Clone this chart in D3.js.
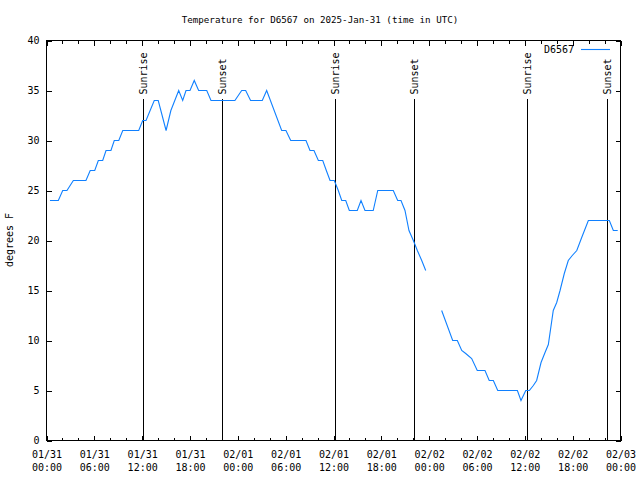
<!DOCTYPE html>
<html>
<head>
<meta charset="utf-8">
<script src="https://cdn.jsdelivr.net/npm/d3@7"></script>
<style>
  html, body { margin: 0; padding: 0; background: #fff; }
  svg { display: block; }
  text { font-family: 'DejaVu Sans Mono', 'Liberation Mono', monospace; fill: #000; }
</style>
</head>
<body>
<svg id="chart" width="640" height="480"></svg>
<script>
// ---- data ----
const chartTitle = "Temperature for D6567 on 2025-Jan-31 (time in UTC)";
const yAxisLabel = "degrees F";
const seriesName = "D6567";

const obsTimes = [
  "2025-01-31T00:26Z","2025-01-31T01:29Z","2025-01-31T02:02Z","2025-01-31T02:34Z","2025-01-31T03:22Z",
  "2025-01-31T04:57Z","2025-01-31T05:29Z","2025-01-31T06:03Z","2025-01-31T06:30Z","2025-01-31T07:03Z",
  "2025-01-31T07:28Z","2025-01-31T08:05Z","2025-01-31T08:30Z","2025-01-31T09:04Z","2025-01-31T09:34Z",
  "2025-01-31T11:34Z","2025-01-31T12:04Z","2025-01-31T12:29Z","2025-01-31T13:31Z","2025-01-31T14:01Z",
  "2025-01-31T15:00Z","2025-01-31T15:36Z","2025-01-31T16:35Z","2025-01-31T17:05Z","2025-01-31T17:30Z",
  "2025-01-31T18:00Z","2025-01-31T18:32Z","2025-01-31T19:05Z","2025-01-31T20:06Z","2025-01-31T20:38Z",
  "2025-01-31T23:38Z",
  "2025-02-01T00:29Z","2025-02-01T00:59Z","2025-02-01T01:36Z","2025-02-01T03:04Z","2025-02-01T03:37Z",
  "2025-02-01T05:30Z","2025-02-01T06:02Z","2025-02-01T06:38Z","2025-02-01T08:33Z","2025-02-01T09:03Z",
  "2025-02-01T09:33Z","2025-02-01T10:06Z","2025-02-01T10:39Z","2025-02-01T11:06Z","2025-02-01T11:34Z",
  "2025-02-01T12:06Z","2025-02-01T12:36Z","2025-02-01T13:02Z","2025-02-01T13:32Z","2025-02-01T13:59Z",
  "2025-02-01T14:59Z","2025-02-01T15:27Z","2025-02-01T15:57Z","2025-02-01T16:59Z","2025-02-01T17:33Z",
  "2025-02-01T19:30Z","2025-02-01T20:03Z","2025-02-01T20:28Z","2025-02-01T20:58Z","2025-02-01T21:28Z",
  "2025-02-01T22:01Z","2025-02-01T22:31Z","2025-02-01T23:04Z","2025-02-01T23:34Z",
  "2025-02-02T00:30Z",
  "2025-02-02T01:34Z","2025-02-02T02:57Z","2025-02-02T03:32Z","2025-02-02T04:05Z","2025-02-02T04:35Z",
  "2025-02-02T05:20Z","2025-02-02T06:02Z","2025-02-02T07:00Z","2025-02-02T07:32Z","2025-02-02T08:03Z",
  "2025-02-02T08:36Z","2025-02-02T11:04Z","2025-02-02T11:31Z","2025-02-02T12:07Z","2025-02-02T12:34Z",
  "2025-02-02T13:04Z","2025-02-02T13:29Z","2025-02-02T14:02Z","2025-02-02T14:32Z","2025-02-02T14:57Z",
  "2025-02-02T15:34Z","2025-02-02T16:00Z","2025-02-02T16:25Z","2025-02-02T16:57Z","2025-02-02T17:27Z",
  "2025-02-02T17:57Z","2025-02-02T18:31Z","2025-02-02T19:08Z","2025-02-02T19:58Z","2025-02-02T22:36Z",
  "2025-02-02T23:06Z","2025-02-02T23:39Z"
];
const tempF = [
  24,24,25,25,26,
  26,27,27,28,28,
  29,29,30,30,31,
  31,32,32,34,34,
  31,33,35,34,35,
  35,36,35,35,34,
  34,
  35,35,34,34,35,
  31,31,30,30,29,
  29,28,28,27,26,
  26,25,24,24,23,
  23,24,23,23,25,
  25,24,24,23,21,
  20,19,18,17,
  null,
  13,10,10,9,8.7,
  8.2,7,7,6,6,
  5,5,4,5,5,
  5.5,6,7.8,8.8,9.6,
  13,13.8,15,16.7,18,
  18.5,19,20.3,22,22,
  21,21
];

const eventLabels = ["Sunrise","Sunset","Sunrise","Sunset","Sunrise","Sunset"];
const eventTimes = [
  "2025-01-31T12:08Z","2025-01-31T22:03Z",
  "2025-02-01T12:11Z","2025-02-01T22:08Z",
  "2025-02-02T12:14Z","2025-02-02T22:16Z"
];
const eventLineTop = 34.2; // degrees F level where marker lines stop

const xDomain = ["2025-01-31T00:00Z","2025-02-03T00:00Z"];
const yDomain = [0, 40];
const yTickValues = [0,5,10,15,20,25,30,35,40];

// ---- layout ----
const svg = d3.select("#chart");
const L = 46.5, R = 620.5, T = 40.5, B = 440.5;
const lineColor = "#1080ff";

const x = d3.scaleUtc().domain(xDomain.map(d => new Date(d))).range([L, R]);
const y = d3.scaleLinear().domain(yDomain).range([B, T]);

const data = obsTimes.map((t, i) => ({ t: new Date(t), v: tempF[i] }));

const g = svg.append("g").style("color", "#000");

const fmtDate = d3.utcFormat("%m/%d");
const fmtTime = d3.utcFormat("%H:%M");

// minor x ticks (bottom & top)
g.append("g").attr("transform", `translate(0,${B})`)
  .call(d3.axisBottom(x).ticks(d3.utcHour.every(2)).tickSizeInner(-3).tickSizeOuter(0).tickFormat(""))
  .call(a => a.select(".domain").remove())
  .selectAll("line").attr("shape-rendering", "crispEdges");
g.append("g").attr("transform", `translate(0,${T})`)
  .call(d3.axisTop(x).ticks(d3.utcHour.every(2)).tickSizeInner(-3).tickSizeOuter(0).tickFormat(""))
  .call(a => a.select(".domain").remove())
  .selectAll("line").attr("shape-rendering", "crispEdges");

// major x ticks bottom with labels
const xb = g.append("g").attr("transform", `translate(0,${B})`)
  .call(d3.axisBottom(x).ticks(d3.utcHour.every(6)).tickSizeInner(-5).tickSizeOuter(0).tickFormat(d => d))
  .call(a => a.select(".domain").remove());
xb.selectAll("line").attr("shape-rendering", "crispEdges");
xb.selectAll("text").each(function(d) {
  const t = d3.select(this);
  t.text(null).attr("y", null).attr("dy", null)
    .attr("font-size", 10).attr("font-family", "'DejaVu Sans Mono', monospace").attr("fill", "#000");
  t.append("tspan").attr("x", 0).attr("y", 17).text(fmtDate(d));
  t.append("tspan").attr("x", 0).attr("y", 30).text(fmtTime(d));
});

// major x ticks top
g.append("g").attr("transform", `translate(0,${T})`)
  .call(d3.axisTop(x).ticks(d3.utcHour.every(6)).tickSizeInner(-5).tickSizeOuter(0).tickFormat(""))
  .call(a => a.select(".domain").remove())
  .selectAll("line").attr("shape-rendering", "crispEdges");

// y axis left
const yl = g.append("g").attr("transform", `translate(${L},0)`)
  .call(d3.axisLeft(y).tickValues(yTickValues).tickSizeInner(-5).tickSizeOuter(0).tickPadding(7))
  .call(a => a.select(".domain").remove());
yl.selectAll("line").attr("shape-rendering", "crispEdges");
yl.selectAll("text").attr("font-size", 10).attr("font-family", "'DejaVu Sans Mono', monospace").attr("fill", "#000");

// y axis right
g.append("g").attr("transform", `translate(${R},0)`)
  .call(d3.axisRight(y).tickValues(yTickValues).tickSizeInner(-5).tickSizeOuter(0).tickFormat(""))
  .call(a => a.select(".domain").remove())
  .selectAll("line").attr("shape-rendering", "crispEdges");

// border
g.append("rect").attr("x", L).attr("y", T).attr("width", R - L).attr("height", B - T)
  .attr("fill", "none").attr("stroke", "#000").attr("stroke-width", 1).attr("shape-rendering", "crispEdges");

// event lines
const ev = g.append("g");
eventTimes.forEach((t, i) => {
  const ex = Math.round(x(new Date(t))) + 0.5;
  ev.append("line").attr("x1", ex).attr("x2", ex).attr("y1", B).attr("y2", y(eventLineTop))
    .attr("stroke", "#000").attr("stroke-width", 1.3).attr("shape-rendering", "crispEdges");
  ev.append("text")
    .attr("transform", `translate(${ex},${y(eventLineTop) - 4}) rotate(-90)`)
    .attr("dy", "0.35em").attr("font-size", 10).text(eventLabels[i]);
});

// data line
const line = d3.line().defined(d => d.v !== null).x(d => x(d.t)).y(d => y(d.v));
g.append("path").datum(data).attr("d", line)
  .attr("fill", "none").attr("stroke", lineColor).attr("stroke-width", 1.1);

// title
svg.append("text").attr("x", 320).attr("y", 23).attr("text-anchor", "middle")
  .attr("font-size", 9.2).text(chartTitle);

// y label
svg.append("text").attr("transform", "translate(13,240) rotate(-90)")
  .attr("text-anchor", "middle").attr("font-size", 10).text(yAxisLabel);

// legend
svg.append("text").attr("x", 574).attr("y", 53).attr("text-anchor", "end")
  .attr("font-size", 10).text(seriesName);
svg.append("line").attr("x1", 581).attr("x2", 610).attr("y1", 49.5).attr("y2", 49.5)
  .attr("stroke", lineColor).attr("stroke-width", 1.1);
</script>
</body>
</html>
